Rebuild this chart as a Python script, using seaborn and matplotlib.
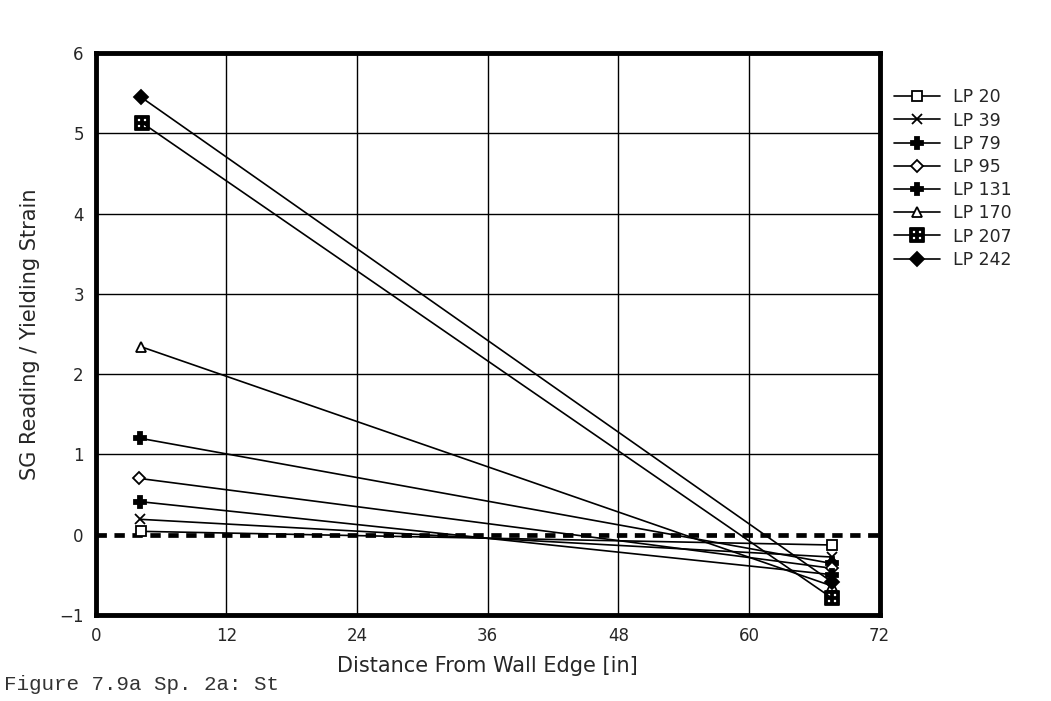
import numpy as np
import pandas as pd
import matplotlib
matplotlib.use("Agg")
import matplotlib.pyplot as plt
import seaborn as sns

# ---- data ----
series = ['LP 20', 'LP 39', 'LP 79', 'LP 95', 'LP 131', 'LP 170', 'LP 207', 'LP 242']
x_start = [4.2, 4.1, 4.1, 4.0, 4.1, 4.2, 4.3, 4.2]
x_end = [67.6, 67.6, 67.6, 67.6, 67.6, 67.6, 67.6, 67.6]
y_start = [0.04, 0.19, 1.20, 0.70, 0.41, 2.34, 5.13, 5.45]
y_end = [-0.13, -0.28, -0.36, -0.42, -0.50, -0.64, -0.79, -0.59]

ref_x = [0, 72]
ref_y = [0, 0]

x_ticks = [0, 12, 24, 36, 48, 60, 72]
y_ticks = [-1, 0, 1, 2, 3, 4, 5, 6]

markers = ['s', 'x', 'P', 'D', 'P', '^', r'$\boxplus$', 'D']
open_mk = [True, False, False, True, False, True, False, False]
msizes = [7, 7, 8, 6, 8, 7, 10, 7]

rows = []
for s, xa, xb, ya, yb in zip(series, x_start, x_end, y_start, y_end):
    rows.append({'series': s, 'x': xa, 'y': ya})
    rows.append({'series': s, 'x': xb, 'y': yb})
df = pd.DataFrame(rows)

sns.set_style('white')
plt.rcParams['font.family'] = ['DejaVu Sans']

fig = plt.figure(figsize=(10.51, 7.01), dpi=100)
ax = fig.add_axes([0.091, 0.123, 0.746, 0.801])

# grid
for gx in x_ticks[1:-1]:
    ax.axvline(gx, color='black', lw=1.0, zorder=1)
for gy in y_ticks[2:-1]:
    ax.axhline(gy, color='black', lw=1.0, zorder=1)

# zero reference line (dashed)
sns.lineplot(x=ref_x, y=ref_y, ax=ax, color='black', lw=3.4,
             linestyle=(0, (2.2, 1.6)), zorder=2)

for i, s in enumerate(series):
    sub = df[df['series'] == s]
    sns.lineplot(data=sub, x='x', y='y', ax=ax, color='black', lw=1.2,
                 marker=markers[i], markersize=msizes[i],
                 markerfacecolor='white' if open_mk[i] else 'black',
                 markeredgecolor='black', markeredgewidth=1.3,
                 label=s, zorder=3)

ax.set_xlim(0, 72)
ax.set_ylim(-1, 6)
ax.set_xticks(x_ticks)
ax.set_yticks(y_ticks)
ax.set_yticklabels(['\u22121', '0', '1', '2', '3', '4', '5', '6'])
ax.tick_params(labelsize=12, length=5, width=1.2, color='black', direction='out')
for sp in ax.spines.values():
    sp.set_linewidth(3.5)
    sp.set_color('black')

ax.set_xlabel('Distance From Wall Edge [in]', fontsize=15, labelpad=8)
ax.set_ylabel('SG Reading / Yielding Strain', fontsize=15, labelpad=14)

leg = ax.legend(loc='upper left', bbox_to_anchor=(1.01, 0.95), frameon=False,
                fontsize=12.5, handlelength=2.6, labelspacing=0.3,
                handletextpad=0.8, borderaxespad=0)

fig.text(0.004, 0.015, 'Figure 7.9a Sp. 2a: St', fontsize=15,
         family=['Liberation Mono', 'DejaVu Sans Mono'], color='#333333')

fig.savefig('out.png', dpi=100)
